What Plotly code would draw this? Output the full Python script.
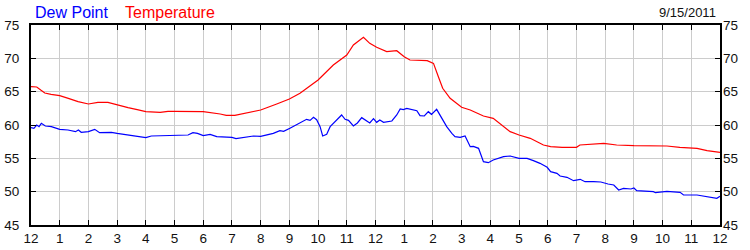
import plotly.graph_objects as go

# Temperature series (hours since midnight, degrees F)
temp_hours = [0.0, 0.2, 0.35, 0.48, 0.7, 1.0, 1.3, 1.64, 2.0, 2.33, 2.68, 3.0, 3.38, 3.7, 4.0, 4.5,
              4.77, 5.0, 5.5, 6.0, 6.59, 6.8, 7.1, 7.5, 8.0, 8.56, 9.0, 9.37, 10.0, 10.53, 11.0,
              11.23, 11.58, 11.8, 12.04, 12.39, 12.74, 13.0, 13.2, 13.8, 14.02, 14.19, 14.34,
              14.6, 15.0, 15.3, 15.76, 16.1, 16.46, 16.69, 17.0, 17.39, 17.85, 18.1, 18.5, 19.0,
              19.12, 19.6, 19.95, 20.4, 21.0, 22.15, 22.6, 23.2, 23.55, 24.0]
temp_values = [65.75, 65.7, 65.2, 64.8, 64.6, 64.4, 64.0, 63.5, 63.15, 63.4, 63.4, 63.0, 62.6, 62.3,
               62.0, 61.9, 62.05, 62.05, 62.05, 62.0, 61.65, 61.45, 61.45, 61.8, 62.25, 63.15, 63.9,
               64.75, 66.75, 69.0, 70.5, 72.0, 73.15, 72.25, 71.65, 71.0, 71.15, 70.25, 69.75,
               69.65, 69.25, 67.25, 65.5, 64.0, 62.65, 62.25, 61.35, 61.0, 59.75, 59.0, 58.5, 58.0,
               57.0, 56.75, 56.65, 56.65, 57.0, 57.1, 57.25, 57.0, 56.9, 56.85, 56.65, 56.5, 56.15,
               55.9]

# Dew point series
dew_hours = [0.0, 0.1, 0.2, 0.28, 0.36, 0.5, 0.71, 1.0, 1.29, 1.45, 1.55, 1.65, 1.75, 2.0, 2.22,
             2.39, 2.8, 3.0, 3.38, 3.73, 4.0, 4.19, 4.77, 5.0, 5.47, 5.64, 5.8, 6.0, 6.24, 6.47,
             7.0, 7.14, 7.4, 7.75, 8.0, 8.44, 8.67, 8.8, 9.02, 9.37, 9.6, 9.72, 9.84, 9.95, 10.07,
             10.16, 10.3, 10.42, 10.59, 10.7, 10.82, 10.94, 11.06, 11.23, 11.37, 11.52, 11.7,
             11.8, 11.93, 12.04, 12.15, 12.28, 12.57, 12.74, 12.86, 12.97, 13.09, 13.44, 13.55,
             13.7, 13.84, 13.95, 14.13, 14.31, 14.48, 14.66, 14.77, 14.95, 15.12, 15.3, 15.41,
             15.59, 15.76, 15.93, 16.1, 16.46, 16.69, 17.0, 17.28, 17.5, 17.73, 17.98, 18.1,
             18.32, 18.43, 18.67, 18.9, 19.13, 19.3, 19.6, 19.85, 20.1, 20.3, 20.47, 20.64,
             20.9, 21.0, 21.1, 21.68, 21.75, 22.15, 22.61, 22.73, 23.2, 23.54, 23.89, 24.0]
dew_values = [59.6, 59.5, 60.0, 59.75, 60.25, 59.85, 59.75, 59.35, 59.25, 59.15, 59.0, 59.25, 58.9,
              59.0, 59.35, 58.85, 58.9, 58.75, 58.5, 58.25, 58.1, 58.35, 58.4, 58.5, 58.5, 58.85,
              58.75, 58.4, 58.6, 58.25, 58.15, 57.95, 58.1, 58.35, 58.3, 58.75, 59.15, 59.05, 59.5,
              60.25, 60.85, 60.7, 61.15, 60.8, 59.75, 58.35, 58.6, 59.75, 60.5, 60.85, 61.5, 60.85,
              60.7, 59.85, 60.3, 61.1, 60.65, 60.3, 60.95, 60.4, 60.75, 60.4, 60.6, 61.5, 62.4,
              62.3, 62.5, 62.15, 61.4, 61.35, 62.0, 61.6, 62.35, 61.0, 59.75, 58.75, 58.25, 58.15,
              58.35, 56.75, 56.8, 56.5, 54.5, 54.35, 54.75, 55.25, 55.35, 55.0, 55.0, 54.65, 54.25,
              53.65, 53.0, 52.75, 52.35, 52.15, 51.65, 51.85, 51.5, 51.5, 51.45, 51.15, 51.0,
              50.25, 50.5, 50.4, 50.55, 50.15, 50.0, 49.85, 50.05, 49.9, 49.5, 49.5, 49.25, 49.0,
              49.3]

x_tick_vals = list(range(0, 25))
x_tick_text = ["12", "1", "2", "3", "4", "5", "6", "7", "8", "9", "10", "11",
               "12", "1", "2", "3", "4", "5", "6", "7", "8", "9", "10", "11", "12"]
y_tick_vals = [45, 50, 55, 60, 65, 70, 75]
date_label = "9/15/2011"

FONT = "Liberation Sans, Arial, sans-serif"

fig = go.Figure()
fig.add_trace(go.Scatter(x=dew_hours, y=dew_values, mode="lines", name="Dew Point",
                         line=dict(color="#0000ff", width=1.2)))
fig.add_trace(go.Scatter(x=temp_hours, y=temp_values, mode="lines", name="Temperature",
                         line=dict(color="#ff0000", width=1.2)))
# invisible trace to host the right-hand y axis
fig.add_trace(go.Scatter(x=[0], y=[60], yaxis="y2", mode="lines", showlegend=False,
                         hoverinfo="skip", line=dict(color="rgba(0,0,0,0)")))

axis_common = dict(showline=True, linecolor="black", linewidth=2,
                   showgrid=True, gridcolor="#cccccc", gridwidth=1,
                   ticks="inside", ticklen=5, tickcolor="black", tickwidth=1,
                   zeroline=False, automargin=False,
                   tickfont=dict(family=FONT, size=13.5, color="#111111"))

fig.update_layout(
    width=750, height=250,
    margin=dict(l=31, r=30, t=25, b=25),
    paper_bgcolor="white", plot_bgcolor="white",
    showlegend=False,
    xaxis=dict(range=[0, 24], tickmode="array", tickvals=x_tick_vals, ticktext=x_tick_text,
               mirror="ticks", ticklabelstandoff=0, **axis_common),
    yaxis=dict(range=[45, 75], tickmode="array", tickvals=y_tick_vals, mirror="ticks",
               ticklabelstandoff=7, **axis_common),
    yaxis2=dict(range=[45, 75], tickmode="array", tickvals=y_tick_vals, overlaying="y",
                side="right", showline=False, showgrid=False, ticks="", zeroline=False,
                ticklabelstandoff=2, automargin=False,
                tickfont=dict(family=FONT, size=13.5, color="#111111")),
    annotations=[
        dict(text="Dew Point", x=33, y=12, xref="paper", yref="paper", showarrow=False,
             font=dict(family=FONT, size=16, color="#0000ff"), xanchor="left", yanchor="middle"),
        dict(text="Temperature", x=123, y=12, xref="paper", yref="paper", showarrow=False,
             font=dict(family=FONT, size=16, color="#ff0000"), xanchor="left", yanchor="middle"),
        dict(text=date_label, x=718, y=12, xref="paper", yref="paper", showarrow=False,
             font=dict(family=FONT, size=13, color="#111111"), xanchor="right", yanchor="middle"),
    ],
)

# convert annotation pixel positions to paper coordinates
pw, ph = 750 - 31 - 30, 250 - 25 - 25
for a in fig.layout.annotations:
    a.x = (a.x - 31) / pw
    a.y = 1 + (25 - a.y) / ph

fig.write_html("out.html")
